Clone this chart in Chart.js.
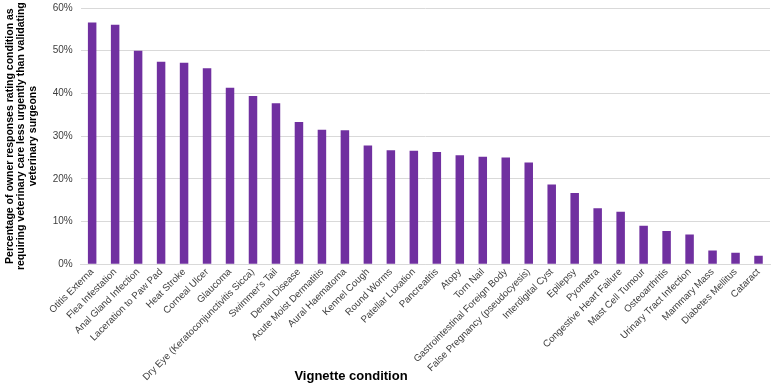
<!DOCTYPE html>
<html>
<head>
<meta charset="utf-8">
<script src="https://cdn.jsdelivr.net/npm/chart.js@4.4.1/dist/chart.umd.min.js"></script>
<style>
    html, body { margin: 0; padding: 0; background: #fff; }
    #wrap { width: 775px; height: 391px; position: relative; }
</style>
</head>
<body>
<div id="wrap"><canvas id="bar-chart"></canvas></div>
<script>
const conditions = [
    'Otitis Externa', 'Flea Infestation', 'Anal Gland Infection', 'Laceration to Paw Pad',
    'Heat Stroke', 'Corneal Ulcer', 'Glaucoma', 'Dry Eye (Keratoconjunctivitis Sicca)',
    "Swimmer's Tail", 'Dental Disease', 'Acute Moist Dermatitis', 'Aural Haematoma',
    'Kennel Cough', 'Round Worms', 'Patellar Luxation', 'Pancreatitis', 'Atopy', 'Torn Nail',
    'Gastrointestinal Foreign Body', 'False Pregnancy (pseudocyesis)', 'Interdigital Cyst',
    'Epilepsy', 'Pyometra', 'Congestive Heart Failure', 'Mast Cell Tumour', 'Osteoarthritis',
    'Urinary Tract Infection', 'Mammary Mass', 'Diabetes Mellitus', 'Cataract'
];
const percentLessUrgent = [
    56.6, 56.1, 50.0, 47.4, 47.2, 45.9, 41.3, 39.4, 37.7, 33.3, 31.5, 31.4, 27.8, 26.7, 26.6,
    26.3, 25.5, 25.2, 25.0, 23.8, 18.7, 16.7, 13.1, 12.3, 9.0, 7.8, 7.0, 3.2, 2.7, 2.0
];
const yTickValues = [0, 10, 20, 30, 40, 50, 60];
const yTitle = [
    'Percentage of owner responses rating condition as',
    'requiring veterinary care less urgently than validating',
    'veterinary surgeons'
];
const xTitle = 'Vignette condition';

// x axis title sits left of the axis centre in the original, so draw it by hand
const xTitlePlugin = {
    id: 'xTitle',
    afterDraw(chart) {
        const ctx = chart.ctx;
        ctx.save();
        ctx.font = 'bold 13px "Liberation Sans", Arial, sans-serif';
        ctx.fillStyle = '#000';
        ctx.textAlign = 'center';
        ctx.textBaseline = 'middle';
        ctx.fillText(xTitle, 351, 376);
        ctx.restore();
    }
};

const ctx = document.getElementById('bar-chart').getContext('2d');
new Chart(ctx, {
    type: 'bar',
    data: {
        labels: conditions,
        datasets: [{
            label: 'Less urgent',
            data: percentLessUrgent,
            backgroundColor: '#7030a0',
            borderWidth: 0,
            categoryPercentage: 1,
            barPercentage: 0.37
        }]
    },
    options: {
        responsive: true,
        maintainAspectRatio: false,
        animation: false,
        devicePixelRatio: 1,
        layout: {
            padding: { top: 8, right: 5, bottom: 6, left: 4 }
        },
        plugins: {
            legend: { display: false },
            tooltip: { enabled: false }
        },
        scales: {
            x: {
                grid: { display: false, drawTicks: false },
                border: { display: true, color: '#d9d9d9', width: 1 },
                ticks: {
                    autoSkip: false,
                    minRotation: 45,
                    maxRotation: 45,
                    padding: 2,
                    color: '#404040',
                    font: { family: '"Liberation Sans", Arial, sans-serif', size: 9.7 }
                }
            },
            y: {
                min: 0,
                max: 60,
                afterBuildTicks(axis) {
                    axis.ticks = yTickValues.map(v => ({ value: v }));
                },
                // let the top gridline sit close to the canvas edge
                afterFit(axis) {
                    axis.paddingTop = 0;
                },
                grid: { color: '#d9d9d9', drawTicks: false },
                border: { display: false },
                ticks: {
                    padding: 8,
                    color: '#404040',
                    font: { family: '"Liberation Sans", Arial, sans-serif', size: 10 },
                    callback: v => v + '%'
                },
                title: {
                    display: true,
                    text: yTitle,
                    color: '#000',
                    padding: { top: 0, bottom: 6 },
                    font: { family: '"Liberation Sans", Arial, sans-serif', size: 10.5, weight: 'bold', lineHeight: 1.1 }
                }
            }
        }
    },
    plugins: [xTitlePlugin]
});
</script>
</body>
</html>
